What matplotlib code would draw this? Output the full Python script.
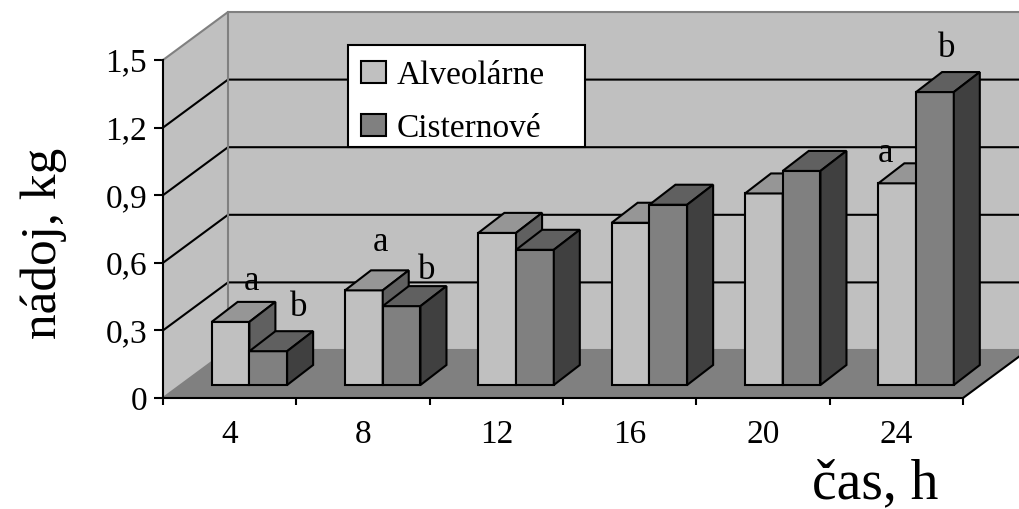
import matplotlib
matplotlib.use('Agg')
import matplotlib.pyplot as plt
from matplotlib.patches import Polygon, Patch, Rectangle

plt.rcParams['font.family'] = ['Liberation Serif', 'DejaVu Serif']

W, H = 1019, 509

categories = ['4', '8', '12', '16', '20', '24']
alveolarne = [0.28, 0.42, 0.675, 0.72, 0.85, 0.895]
cisternove = [0.15, 0.35, 0.60, 0.80, 0.95, 1.30]
y_ticks = [0, 0.3, 0.6, 0.9, 1.2, 1.5]
y_labels = ['0', '0,3', '0,6', '0,9', '1,2', '1,5']

note_text = ['a', 'b', 'a', 'b', 'a', 'b']
note_x = [0.667, 1.02, 1.635, 1.98, 5.42, 5.88]
note_y = [0.515, 0.40, 0.692, 0.568, 1.087, 1.553]

# depth of the fake 3d box and of one bar, in data units
WALL_DX = 0.4875
WALL_DY = 0.213
BAR_DX = 0.195
BAR_DY = 0.0888
BASE_Y = 0.0577
BAR_START = 0.365
BAR_W = 0.283
LW = 1.5


def draw_bar(ax, x, value, front, top, side):
    y0 = BASE_Y
    y1 = BASE_Y + value
    x1 = x + BAR_W
    ax.bar(x, value, BAR_W, bottom=y0, align='edge', color=front, edgecolor='black',
           linewidth=LW, clip_on=False, zorder=5)
    ax.add_patch(Polygon([(x, y1), (x1, y1), (x1 + BAR_DX, y1 + BAR_DY), (x + BAR_DX, y1 + BAR_DY)],
                         facecolor=top, edgecolor='black', linewidth=LW, clip_on=False, zorder=5))
    ax.add_patch(Polygon([(x1, y0), (x1 + BAR_DX, y0 + BAR_DY), (x1 + BAR_DX, y1 + BAR_DY), (x1, y1)],
                         facecolor=side, edgecolor='black', linewidth=LW, clip_on=False, zorder=5))


fig = plt.figure(figsize=(W / 100, H / 100), dpi=100)
ax = fig.add_axes([163 / W, 1 - 398 / H, 800 / W, 338 / H])
ax.set_xlim(0, 6)
ax.set_ylim(0, 1.5)
ax.patch.set_visible(False)

# walls and floor
ax.add_patch(Polygon([(0, 0), (WALL_DX, WALL_DY), (WALL_DX, 1.5 + WALL_DY), (0, 1.5)],
                     facecolor='#c0c0c0', edgecolor='none', clip_on=False, zorder=1))
ax.add_patch(Polygon([(WALL_DX, WALL_DY), (7, WALL_DY), (7, 1.5 + WALL_DY), (WALL_DX, 1.5 + WALL_DY)],
                     facecolor='#c0c0c0', edgecolor='none', clip_on=False, zorder=1))
ax.add_patch(Polygon([(0, 0), (6, 0), (6 + WALL_DX, WALL_DY), (WALL_DX, WALL_DY)],
                     facecolor='#808080', edgecolor='none', clip_on=False, zorder=2))
ax.plot([6, 6 + WALL_DX], [0, WALL_DY], color='black', lw=LW, clip_on=False, zorder=3)

# gridlines on the side and back wall
for t in y_ticks:
    color = '#808080' if t in (0, 1.5) else 'black'
    ax.plot([0, WALL_DX, 7], [t, t + WALL_DY, t + WALL_DY], color=color, lw=LW, clip_on=False, zorder=3)
ax.plot([WALL_DX, WALL_DX], [WALL_DY, 1.5 + WALL_DY], color='#808080', lw=LW, clip_on=False, zorder=3)

for i in range(len(categories)):
    draw_bar(ax, i + BAR_START, alveolarne[i], '#c0c0c0', '#969696', '#606060')
    draw_bar(ax, i + BAR_START + BAR_W, cisternove[i], '#808080', '#606060', '#404040')

for t, x, y in zip(note_text, note_x, note_y):
    ax.text(x, y, t, fontsize=25, ha='center', va='center', zorder=6)

for side in ['top', 'right']:
    ax.spines[side].set_visible(False)
for side in ['left', 'bottom']:
    ax.spines[side].set_linewidth(LW)
    ax.spines[side].set_zorder(4)

ax.set_yticks(y_ticks)
ax.set_yticklabels(y_labels, fontsize=24)
ax.set_xticks(range(7))
ax.set_xticklabels([])
ax.set_xticks([i + 0.5 for i in range(6)], labels=categories, minor=True, fontsize=24)
ax.tick_params(axis='y', length=6.5, width=LW, pad=5)
ax.tick_params(axis='x', which='major', length=5, width=LW)
ax.tick_params(axis='x', which='minor', length=0, pad=15.5)

ax.set_ylabel('nádoj, kg', fontsize=37)
ax.yaxis.set_label_coords((67 - 163) / 800, (398 - 243) / 338)
ax.set_xlabel('čas, h', fontsize=40)
ax.xaxis.set_label_coords((875 - 163) / 800, (398 - 458) / 338)

# legend frame is separate so the entries can sit where they do in the original
ax.add_patch(Rectangle((348 / W, 1 - 147 / H), 237 / W, 102 / H, transform=fig.transFigure,
                       facecolor='white', edgecolor='black', linewidth=LW, clip_on=False, zorder=7))
handles = [Patch(facecolor='#c0c0c0', edgecolor='black', linewidth=LW),
           Patch(facecolor='#808080', edgecolor='black', linewidth=LW)]
leg = ax.legend(handles, ['Alveolárne', 'Cisternové'], fontsize=24, loc='upper left',
                bbox_to_anchor=(348 / W, 1 - 47 / H), bbox_transform=fig.transFigure,
                borderaxespad=0, borderpad=0.4, labelspacing=0.68, handlelength=0.75,
                handleheight=0.65, handletextpad=0.32, frameon=False)
leg.set_zorder(8)

fig.savefig('out.png', dpi=100)
